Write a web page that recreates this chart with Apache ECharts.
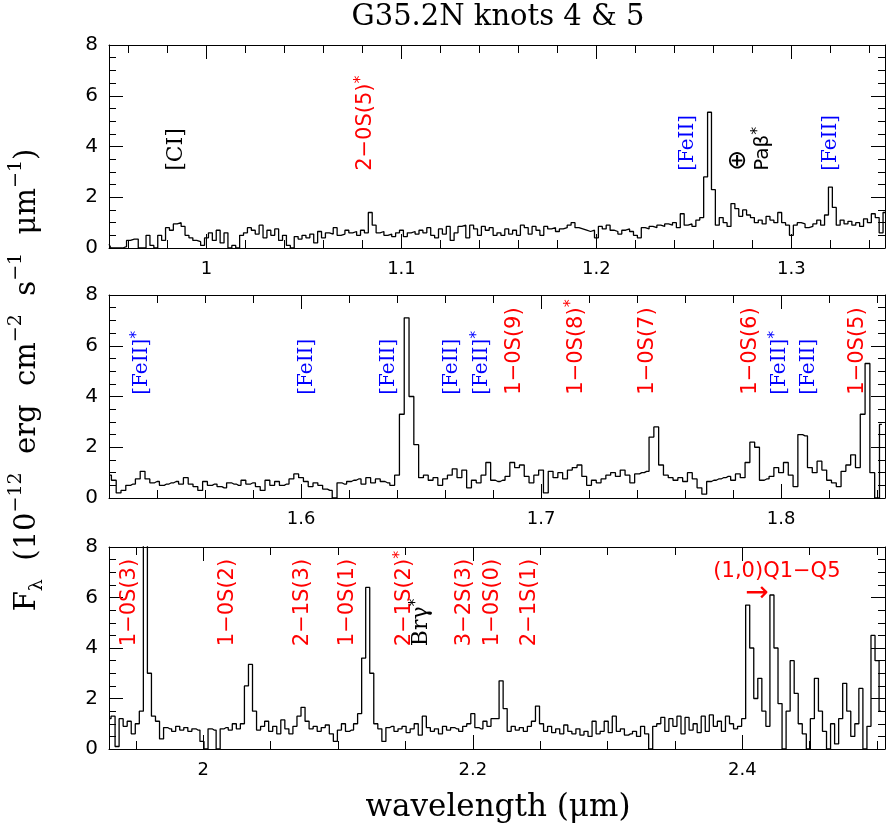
<!DOCTYPE html>
<html>
<head>
<meta charset="utf-8">
<script src="https://cdn.jsdelivr.net/npm/echarts@6/dist/echarts.min.js"></script>
<style>
  html, body { margin: 0; padding: 0; background: #fff; }
  #chart-container { width: 886px; height: 834px; }
</style>
</head>
<body>
<div id="chart-container"></div>
<script>
var dom = document.getElementById("chart-container");
var myChart = echarts.init(dom, null, { renderer: "canvas" });

var chart_title = "G35.2N knots 4 & 5";
var x_title = "wavelength (μm)";

// wavelength range of each panel (micron)
var range1 = [0.95, 1.348];
var range2 = [1.52, 1.8433];
var range3 = [1.93, 2.5059];

// spectra: first bin, bin width, flux in 1e-12 erg cm-2 s-1 um-1
var start1 = 0.95, step1 = 0.002;
var flux1 = [
  0.15, 0, 0, 0, 0.05, 0.3, 0.35, 0.35, 0, 0,
  0.5, 0.1, 0, 0.5, 0.3, 0.8, 0.7, 0.95, 1.0, 0.85,
  0.5, 0.4, 0.3, 0.25, 0.1, 0.4, 0.6, 0.3, 0.7, 0.2,
  0.6, 0, 0.1, 0, 0.5, 0.6, 0.8, 0.7, 0.55, 0.9,
  0.4, 0.7, 0.5, 0.75, 0.3, 0.5, 0.1, 0, 0.45, 0.35,
  0.5, 0.4, 0.55, 0.2, 0.65, 0.4, 0.6, 0.55, 0.8, 0.5,
  0.55, 0.7, 0.6, 0.65, 0.5, 0.7, 0.6, 1.4, 0.9, 0.6,
  0.65, 0.5, 0.55, 0.45, 0.6, 0.7, 0.45, 0.6, 0.65, 0.55,
  0.7, 0.6, 0.8, 0.5, 0.4, 0.75, 0.55, 0.85, 0.3, 0.6,
  0.85, 0.9, 0.4, 0.9, 0.75, 0.5, 0.85, 0.7, 0.8, 0.5,
  0.6, 0.5, 0.75, 0.55, 0.7, 0.5, 0.9, 0.8, 0.55, 0.85,
  0.7, 0.5, 0.85, 0.75, 0.8, 0.65, 0.75, 0.8, 0.9, 1.0,
  0.8, 0.75, 0.7, 0.65, 0.7, 0.4, 0.85, 0.75, 0.9, 0.7,
  0.65, 0.55, 0.7, 0.75, 0.65, 0.5, 0.4, 0.8, 0.75, 0.85,
  0.8, 0.9, 0.85, 0.95, 0.9, 1.0, 0.8, 1.35, 0.9, 0.95,
  0.85, 1.1, 1.2, 2.8, 5.35, 2.3, 0.9, 1.2, 1.0, 0.85,
  1.75, 1.55, 1.25, 1.5, 1.3, 1.2, 1.0, 1.1, 0.95, 1.25,
  1.1, 1.0, 1.4, 1.0, 0.9, 0.5, 0.9, 1.0, 0.95, 0.8,
  0.85, 0.95, 1.1, 0.9, 1.3, 2.4, 1.6, 0.9, 1.1, 0.95,
  1.05, 0.9, 1.0, 0.85, 1.15, 1.0, 1.35, 1.2, 0.6, 1.4
];

var start2 = 1.52, step2 = 0.002;
var flux2 = [
  0.9, 0.7, 0.2, 0.3, 0.5, 0.55, 0.75, 1.05, 0.75, 0.6,
  0.65, 0.5, 0.55, 0.6, 0.65, 0.55, 0.8, 0.55, 0.45, 0.3,
  0.65, 0.5, 0.55, 0.45, 0.4, 0.6, 0.55, 0.5, 0.7, 0.55,
  0.6, 0.45, 0.3, 0.7, 0.5, 0.65, 0.5, 0.55, 0.75, 0.95,
  0.8, 0.65, 0.45, 0.6, 0.5, 0.35, 0.3, 0, 0.6, 0.55,
  0.65, 0.7, 0.75, 0.55, 0.8, 0.6, 0.75, 0.65, 0.6, 0.5,
  0.9, 3.3, 7.1, 4.0, 2.1, 0.8, 0.9, 0.7, 0.8, 0.5,
  0.75, 0.9, 1.15, 0.8, 1.1, 0.4, 0.7, 0.6, 0.9, 1.4,
  0.7, 0.65, 0.7, 0.85, 1.4, 1.2, 1.3, 0.85, 0.6, 0.9,
  1.1, 0.2, 1.05, 0.8, 1.0, 0.75, 1.1, 1.2, 1.3, 0.85,
  0.5, 0.7, 0.6, 0.75, 0.9, 1.0, 0.85, 1.1, 0.9, 0.6,
  0.95, 1.0, 1.05, 2.4, 2.8, 1.3, 0.9, 0.8, 0.7, 0.8,
  0.65, 1.0, 0.75, 0.4, 0.15, 0.65, 0.7, 0.75, 0.8, 0.85,
  0.7, 0.95, 0.8, 1.4, 2.2, 2.0, 0.7, 0.75, 0.85, 1.2,
  1.0, 1.4, 0.9, 0.45, 2.5, 2.45, 1.2, 1.0, 1.45, 1.1,
  0.7, 0.6, 0.45, 1.05, 1.3, 1.7, 1.2, 3.3, 5.3, 1.0,
  0.0, 2.9
];

var start3 = 1.93, step3 = 0.003;
var flux3 = [
  1.2, 1.3, 0.1, 1.2, 0.9, 1.1, 0.6, 1.0, 1.5, 9.0,
  3.0, 1.3, 1.1, 0.4, 0.85, 0.8, 0.7, 0.9, 0.75, 0.85,
  0.7, 0.8, 0.75, 0.3, 0.0, 0.8, 0.75, 0.0, 0.8, 0.85,
  0.75, 1.0, 0.8, 1.0, 2.5, 3.35, 1.5, 0.75, 0.9, 1.1,
  0.7, 0.9, 0.6, 1.15, 0.8, 0.6, 0.9, 1.3, 1.65, 1.1,
  0.8, 0.9, 0.7, 0.85, 0.95, 0.6, 0.3, 0.75, 1.0, 0.7,
  0.75, 1.0, 1.4, 3.6, 6.4, 3.0, 1.0, 0.8, 0.3, 0.85,
  0.9, 0.7, 0.8, 0.9, 0.65, 0.8, 1.0, 0.55, 1.3, 0.85,
  0.7, 0.8, 0.6, 0.9, 0.75, 0.85, 0.8, 0.7, 0.9, 1.0,
  1.4, 0.85, 0.8, 1.1, 0.9, 1.2, 1.2, 2.7, 1.6, 0.7,
  0.9, 0.75, 0.85, 0.7, 0.9, 1.1, 1.7, 1.0, 0.7, 0.9,
  0.65, 0.8, 0.6, 0.95, 0.7, 0.6, 0.8, 0.55, 0.7, 0.5,
  1.1, 0.6, 0.7, 1.1, 0.65, 1.3, 0.7, 0.8, 0.55, 0.6,
  0.7, 0.5, 0.9, 0.6, 0.0, 0.9, 1.0, 1.25, 0.7, 1.2,
  0.9, 1.3, 0.6, 1.25, 0.75, 1.0, 0.65, 1.3, 0.7, 1.35,
  0.9, 1.1, 0.7, 1.3, 1.0, 0.8, 0.9, 1.2, 5.7, 4.0,
  2.0, 2.8, 1.5, 0.9, 6.1, 4.0, 1.8, 0.0, 1.5, 3.5,
  2.2, 1.0, 0.6, 0.0, 1.2, 2.8, 1.5, 0.7, 0.0, 1.0,
  0.2, 1.2, 2.6, 1.5, 0.5, 1.0, 2.4, 0.0, 0.9, 4.5,
  3.5, 1.5
];

// tick labels
var majorTicks1 = [1.0, 1.1, 1.2, 1.3];
var majorTicks2 = [1.6, 1.7, 1.8];
var majorTicks3 = [2.0, 2.2, 2.4];
var minorStep1 = 0.02, minorStep2 = 0.02, minorStep3 = 0.05;

// line identifications
var lineNames1 = ["[CI]", "2−0S(5)*", "[FeII]", "⊕", "Paβ*", "[FeII]"];
var lineWaves1 = [0.9846, 1.0818, 1.2469, 1.2731, 1.2854, 1.3203];
var lineNames2 = ["[FeII]*", "[FeII]", "[FeII]", "[FeII]", "[FeII]*", "1−0S(9)",
  "1−0S(8)*", "1−0S(7)", "1−0S(6)", "[FeII]*", "[FeII]", "1−0S(5)"];
var lineWaves2 = [1.5338, 1.6025, 1.6367, 1.6627, 1.6754, 1.6888,
  1.7146, 1.7442, 1.7871, 1.7996, 1.8117, 1.8317];
var lineNames3 = ["1−0S(3)", "1−0S(2)", "2−1S(3)", "1−0S(1)", "2−1S(2)*", "Brγ*",
  "3−2S(3)", "1−0S(0)", "2−1S(1)"];
var lineWaves3 = [1.9456, 2.0183, 2.074, 2.1074, 2.1497, 2.1618, 2.1942, 2.215, 2.2424];
var qBandName = "(1,0)Q1−Q5";
var qBandWave = 2.4257;
var qArrowWave = 2.4109;

var black = "#000";
var grids = [
  { left: 109, top: 45, width: 776, height: 203 },
  { left: 109, top: 295, width: 776, height: 203 },
  { left: 109, top: 547, width: 776, height: 202 },
];

function spectrum(start, step, flux) {
  return flux.map(function (f, i) {
    return [+(start + i * step).toFixed(4), f];
  });
}

function minorTicks(range, step, majors) {
  var out = [];
  for (var k = Math.ceil(range[0] / step - 1e-6); k * step <= range[1] + 1e-9; k++) {
    var v = +(k * step).toFixed(4);
    if (majors.indexOf(v) < 0) out.push(v);
  }
  return out;
}

function xAxes(p, range, majors, minors) {
  function ax(pos, values, len, labels, line) {
    return {
      type: "value", gridIndex: p, position: pos, min: range[0], max: range[1],
      splitLine: { show: false },
      axisLine: { show: line, onZero: false, lineStyle: { color: black, width: 1 } },
      axisTick: { show: true, inside: true, length: len, customValues: values,
        lineStyle: { color: black, width: 1 } },
      axisLabel: labels
        ? { show: true, customValues: values, margin: 12, color: black,
            fontSize: 18, fontFamily: "DejaVu Sans" }
        : { show: false },
    };
  }
  return [
    ax("bottom", majors, 14, true, true),
    ax("bottom", minors, 8, false, false),
    ax("top", majors, 14, false, true),
    ax("top", minors, 8, false, false),
  ];
}

function yAxes(p) {
  function ax(pos, labels) {
    return {
      type: "value", gridIndex: p, position: pos, min: 0, max: 8, interval: 2,
      splitLine: { show: false },
      axisLine: { show: true, onZero: false, lineStyle: { color: black, width: 1 } },
      axisTick: { show: true, inside: true, length: 14, lineStyle: { color: black, width: 1 } },
      minorTick: { show: true, splitNumber: 4, length: 7, lineStyle: { color: black, width: 1 } },
      axisLabel: labels
        ? { show: true, margin: 11, color: black, fontSize: 20, fontFamily: "DejaVu Sans" }
        : { show: false },
    };
  }
  return [ax("left", true), ax("right", false)];
}

function tok(color, family, size, lh, va) {
  var s = { color: color, fontFamily: family, fontSize: size, lineHeight: lh,
    textBorderWidth: 0, textShadowBlur: 0, opacity: 1 };
  if (va) s.verticalAlign = va;
  return s;
}

var labelRich = {
  r: tok("#ff0000", "DejaVu Sans", 21, 26),
  rs: tok("#ff0000", "DejaVu Sans", 16, 18, "top"),
  b: tok("#0000ff", "DejaVu Serif", 20, 26),
  bs: tok("#0000ff", "DejaVu Sans", 16, 18, "top"),
  k: tok(black, "DejaVu Sans", 20, 26),
  kf: tok(black, "DejaVu Serif", 22, 26),
  ks: tok(black, "DejaVu Sans", 16, 18, "top"),
  o: tok(black, "DejaVu Sans", 25, 26),
};

function richName(name) {
  var star = name.charAt(name.length - 1) === "*";
  var body = star ? name.slice(0, -1) : name;
  var key;
  if (body === "[CI]" || body === "Brγ") key = "kf";
  else if (body === "⊕") key = "o";
  else if (body.charAt(0) === "[") key = "b";
  else if (body.indexOf("S(") >= 0) key = "r";
  else key = "k";
  return "{" + key + "|" + body + "}" + (star ? "{" + key.charAt(0) + "s|*}" : "");
}

function labelSeries(p, names, waves, base) {
  return {
    type: "scatter", xAxisIndex: 4 * p, yAxisIndex: 2 * p, symbolSize: 0, silent: true,
    itemStyle: { color: "rgba(0,0,0,0)", opacity: 1 },
    label: {
      show: true, position: [0, 0], rotate: 90, align: "left", verticalAlign: "middle",
      color: black, opacity: 1, textBorderWidth: 0, rich: labelRich,
      formatter: function (prm) { return richName(prm.name); },
    },
    data: names.map(function (n, i) { return { name: n, value: [waves[i], base] }; }),
  };
}

function specSeries(p, start, step, flux) {
  return {
    type: "line", xAxisIndex: 4 * p, yAxisIndex: 2 * p, step: "middle",
    symbol: "none", showSymbol: false, silent: true, clip: true,
    lineStyle: { color: black, width: 1.3 },
    data: spectrum(start, step, flux),
  };
}

var option = {
  animation: false,
  grid: grids.map(function (g) { return Object.assign({ outerBoundsMode: "none", containLabel: false }, g); }),
  xAxis: []
    .concat(xAxes(0, range1, majorTicks1, minorTicks(range1, minorStep1, majorTicks1)))
    .concat(xAxes(1, range2, majorTicks2, minorTicks(range2, minorStep2, majorTicks2)))
    .concat(xAxes(2, range3, majorTicks3, minorTicks(range3, minorStep3, majorTicks3))),
  yAxis: [].concat(yAxes(0)).concat(yAxes(1)).concat(yAxes(2)),
  series: [
    specSeries(0, start1, step1, flux1),
    specSeries(1, start2, step2, flux2),
    specSeries(2, start3, step3, flux3),
    labelSeries(0, lineNames1, lineWaves1, 3.04),
    labelSeries(1, lineNames2, lineWaves2, 4.07),
    labelSeries(2, lineNames3, lineWaves3, 4.07),
    {
      type: "scatter", xAxisIndex: 8, yAxisIndex: 4, symbolSize: 0, silent: true,
      itemStyle: { color: "rgba(0,0,0,0)", opacity: 1 },
      label: { show: true, position: [0, 0], align: "center", verticalAlign: "middle",
        color: "#ff0000", opacity: 1, textBorderWidth: 0, fontFamily: "DejaVu Sans",
        fontSize: 21, formatter: "{b}" },
      data: [
        { name: qBandName, value: [qBandWave, 7.01] },
        { name: "→", value: [qArrowWave, 6.14], label: { fontSize: 28 } },
      ],
    },
  ],
  graphic: [
    {
      type: "text", x: 498, y: 17, silent: true,
      style: { text: chart_title, fill: black, font: '29px "DejaVu Serif"',
        align: "center", verticalAlign: "middle", textAlign: "center", textVerticalAlign: "middle" },
    },
    {
      type: "text", x: 498, y: 808, silent: true,
      style: { text: x_title, fill: black, font: '31px "DejaVu Serif"',
        align: "center", verticalAlign: "middle", textAlign: "center", textVerticalAlign: "middle" },
    },
    {
      type: "text", x: 27, y: 380, rotation: Math.PI / 2, silent: true,
      style: {
        text: "{n|F}{sub|λ}{n|  (10}{sup|−12}{n|  erg  cm}{sup|−2}{n|  s}{sup|−1}{n|  μm}{sup|−1}{n|)}",
        align: "center", verticalAlign: "middle", textAlign: "center", textVerticalAlign: "middle",
        fill: black,
        rich: {
          n: { fill: black, fontFamily: "DejaVu Serif", fontSize: 29, lineHeight: 40 },
          sup: { fill: black, fontFamily: "DejaVu Serif", fontSize: 19, lineHeight: 22, verticalAlign: "top" },
          sub: { fill: black, fontFamily: "DejaVu Serif", fontSize: 19, lineHeight: 22, verticalAlign: "bottom" },
        },
      },
    },
  ],
};

myChart.setOption(option);

window.addEventListener("resize", function () {
  myChart.resize();
});
</script>
</body>
</html>
